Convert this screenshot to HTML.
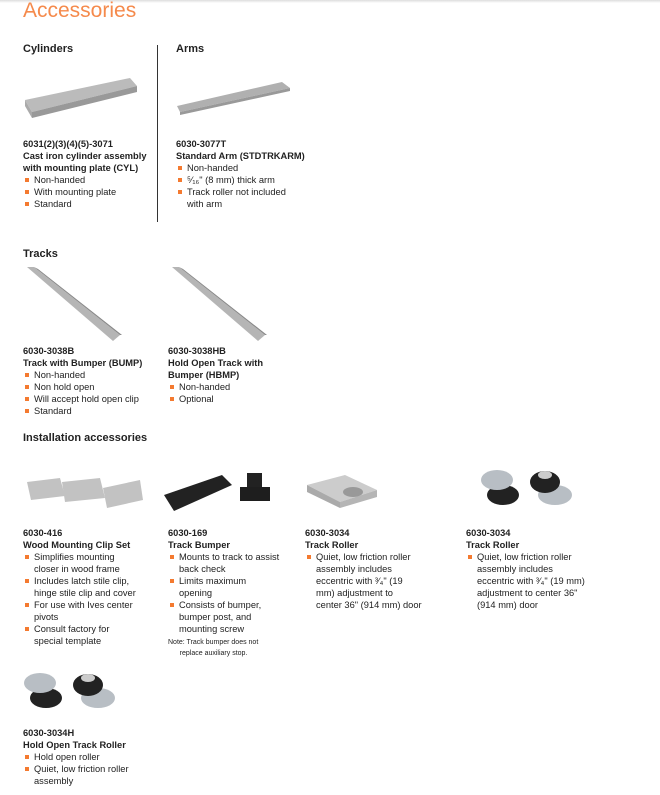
<!DOCTYPE html>
<html><head><meta charset="utf-8"><style>
body{margin:0;width:660px;height:795px;background:#fff;position:relative;overflow:hidden;font-family:"Liberation Sans",sans-serif;color:#222}
.a{position:absolute}
h1{position:absolute;left:23px;top:-1px;margin:0;font-weight:normal;font-size:21px;color:#f58a4c}
.h{position:absolute;font-weight:bold;font-size:11px;color:#222}
.t{position:absolute;font-size:9.3px;line-height:12px}
.t b{display:block;font-size:9.3px}
.t ul{margin:0;padding:0;list-style:none}
.t li{position:relative;padding-left:11px}
.t li:before{content:"";position:absolute;left:2px;top:4px;width:3.5px;height:3.5px;background:#f47a30}
.n{font-size:7px;line-height:11px}
</style></head><body>
<div class="a" style="left:0;top:0;width:660px;height:3px;background:linear-gradient(#ddd,#fff)"></div>
<h1>Accessories</h1>
<div class="h" style="left:23px;top:43px">Cylinders</div>
<div class="h" style="left:176px;top:43px">Arms</div>
<div class="a" style="left:157px;top:45px;width:1px;height:177px;background:#333"></div>
<svg class="a" style="left:20px;top:70px" width="120" height="50"><polygon points="5,30 110,8 117,16 12,42" fill="#bbb"/><polygon points="12,42 117,16 117,22 12,48" fill="#999"/><polygon points="5,30 12,42 12,48 5,36" fill="#aaa"/></svg>
<svg class="a" style="left:172px;top:76px" width="130" height="40"><polygon points="5,30 110,6 118,12 8,36" fill="#b0b0b0"/><polygon points="8,36 118,12 118,15 8,39" fill="#999"/></svg>
<div class="t" style="left:23px;top:138px"><b>6031(2)(3)(4)(5)-3071</b><b>Cast iron cylinder assembly<br>with mounting plate (CYL)</b><ul><li>Non-handed</li><li>With mounting plate</li><li>Standard</li></ul></div>
<div class="t" style="left:176px;top:138px"><b>6030-3077T</b><b>Standard Arm (STDTRKARM)</b><ul><li>Non-handed</li><li>⁵⁄₁₆" (8 mm) thick arm</li><li>Track roller not included<br>with arm</li></ul></div>
<div class="h" style="left:23px;top:248px">Tracks</div>
<svg class="a" style="left:22px;top:265px" width="100" height="80"><polygon points="5,2 12,2 98,70 91,76" fill="#b5b5b5"/><polygon points="12,2 16,4 100,70 98,70" fill="#888"/></svg>
<svg class="a" style="left:167px;top:265px" width="100" height="80"><polygon points="5,2 12,2 98,70 91,76" fill="#b5b5b5"/><polygon points="12,2 16,4 100,70 98,70" fill="#888"/></svg>
<div class="t" style="left:23px;top:345px"><b>6030-3038B</b><b>Track with Bumper (BUMP)</b><ul><li>Non-handed</li><li>Non hold open</li><li>Will accept hold open clip</li><li>Standard</li></ul></div>
<div class="t" style="left:168px;top:345px"><b>6030-3038HB</b><b>Hold Open Track with<br>Bumper (HBMP)</b><ul><li>Non-handed</li><li>Optional</li></ul></div>
<div class="h" style="left:23px;top:432px">Installation accessories</div>
<svg class="a" style="left:25px;top:470px" width="120" height="45"><polygon points="2,12 35,8 40,26 6,30" fill="#c2c2c2"/><polygon points="37,12 75,8 80,28 40,32" fill="#c2c2c2"/><polygon points="78,18 115,10 118,30 82,38" fill="#c2c2c2"/></svg>
<svg class="a" style="left:162px;top:465px" width="120" height="50"><polygon points="2,30 60,10 70,20 12,46" fill="#222"/><rect x="85" y="8" width="15" height="18" fill="#222"/><rect x="78" y="22" width="30" height="14" fill="#1e1e1e"/></svg>
<svg class="a" style="left:305px;top:470px" width="75" height="45"><polygon points="2,15 40,5 72,20 35,32" fill="#ccc"/><polygon points="2,15 35,32 35,38 2,22" fill="#aaa"/><polygon points="35,32 72,20 72,27 35,38" fill="#b5b5b5"/><ellipse cx="48" cy="22" rx="10" ry="5" fill="#999"/></svg>
<svg class="a" style="left:475px;top:465px" width="110" height="50"><ellipse cx="28" cy="30" rx="16" ry="10" fill="#222"/><ellipse cx="22" cy="15" rx="16" ry="10" fill="#b8bec4"/><ellipse cx="80" cy="30" rx="17" ry="10" fill="#b8bec4"/><ellipse cx="70" cy="17" rx="15" ry="11" fill="#222"/><ellipse cx="70" cy="10" rx="7" ry="4" fill="#ccc"/></svg>
<div class="t" style="left:23px;top:527px"><b>6030-416</b><b>Wood Mounting Clip Set</b><ul><li>Simplifies mounting<br>closer in wood frame</li><li>Includes latch stile clip,<br>hinge stile clip and cover</li><li>For use with Ives center<br>pivots</li><li>Consult factory for<br>special template</li></ul></div>
<div class="t" style="left:168px;top:527px"><b>6030-169</b><b>Track Bumper</b><ul><li>Mounts to track to assist<br>back check</li><li>Limits maximum<br>opening</li><li>Consists of bumper,<br>bumper post, and<br>mounting screw</li></ul><div class="n" style="margin-top:2px">Note: Track bumper does not<br>&nbsp;&nbsp;&nbsp;&nbsp;&nbsp;&nbsp;replace auxiliary stop.</div></div>
<div class="t" style="left:305px;top:527px"><b>6030-3034</b><b>Track Roller</b><ul><li>Quiet, low friction roller<br>assembly includes<br>eccentric with ³⁄₄" (19<br>mm) adjustment to<br>center 36" (914 mm) door</li></ul></div>
<div class="t" style="left:466px;top:527px"><b>6030-3034</b><b>Track Roller</b><ul><li>Quiet, low friction roller<br>assembly includes<br>eccentric with ³⁄₄" (19 mm)<br>adjustment to center 36"<br>(914 mm) door</li></ul></div>
<svg class="a" style="left:18px;top:668px" width="110" height="50"><ellipse cx="28" cy="30" rx="16" ry="10" fill="#222"/><ellipse cx="22" cy="15" rx="16" ry="10" fill="#b8bec4"/><ellipse cx="80" cy="30" rx="17" ry="10" fill="#b8bec4"/><ellipse cx="70" cy="17" rx="15" ry="11" fill="#222"/><ellipse cx="70" cy="10" rx="7" ry="4" fill="#ccc"/></svg>
<div class="t" style="left:23px;top:727px"><b>6030-3034H</b><b>Hold Open Track Roller</b><ul><li>Hold open roller</li><li>Quiet, low friction roller<br>assembly</li></ul></div>
</body></html>
